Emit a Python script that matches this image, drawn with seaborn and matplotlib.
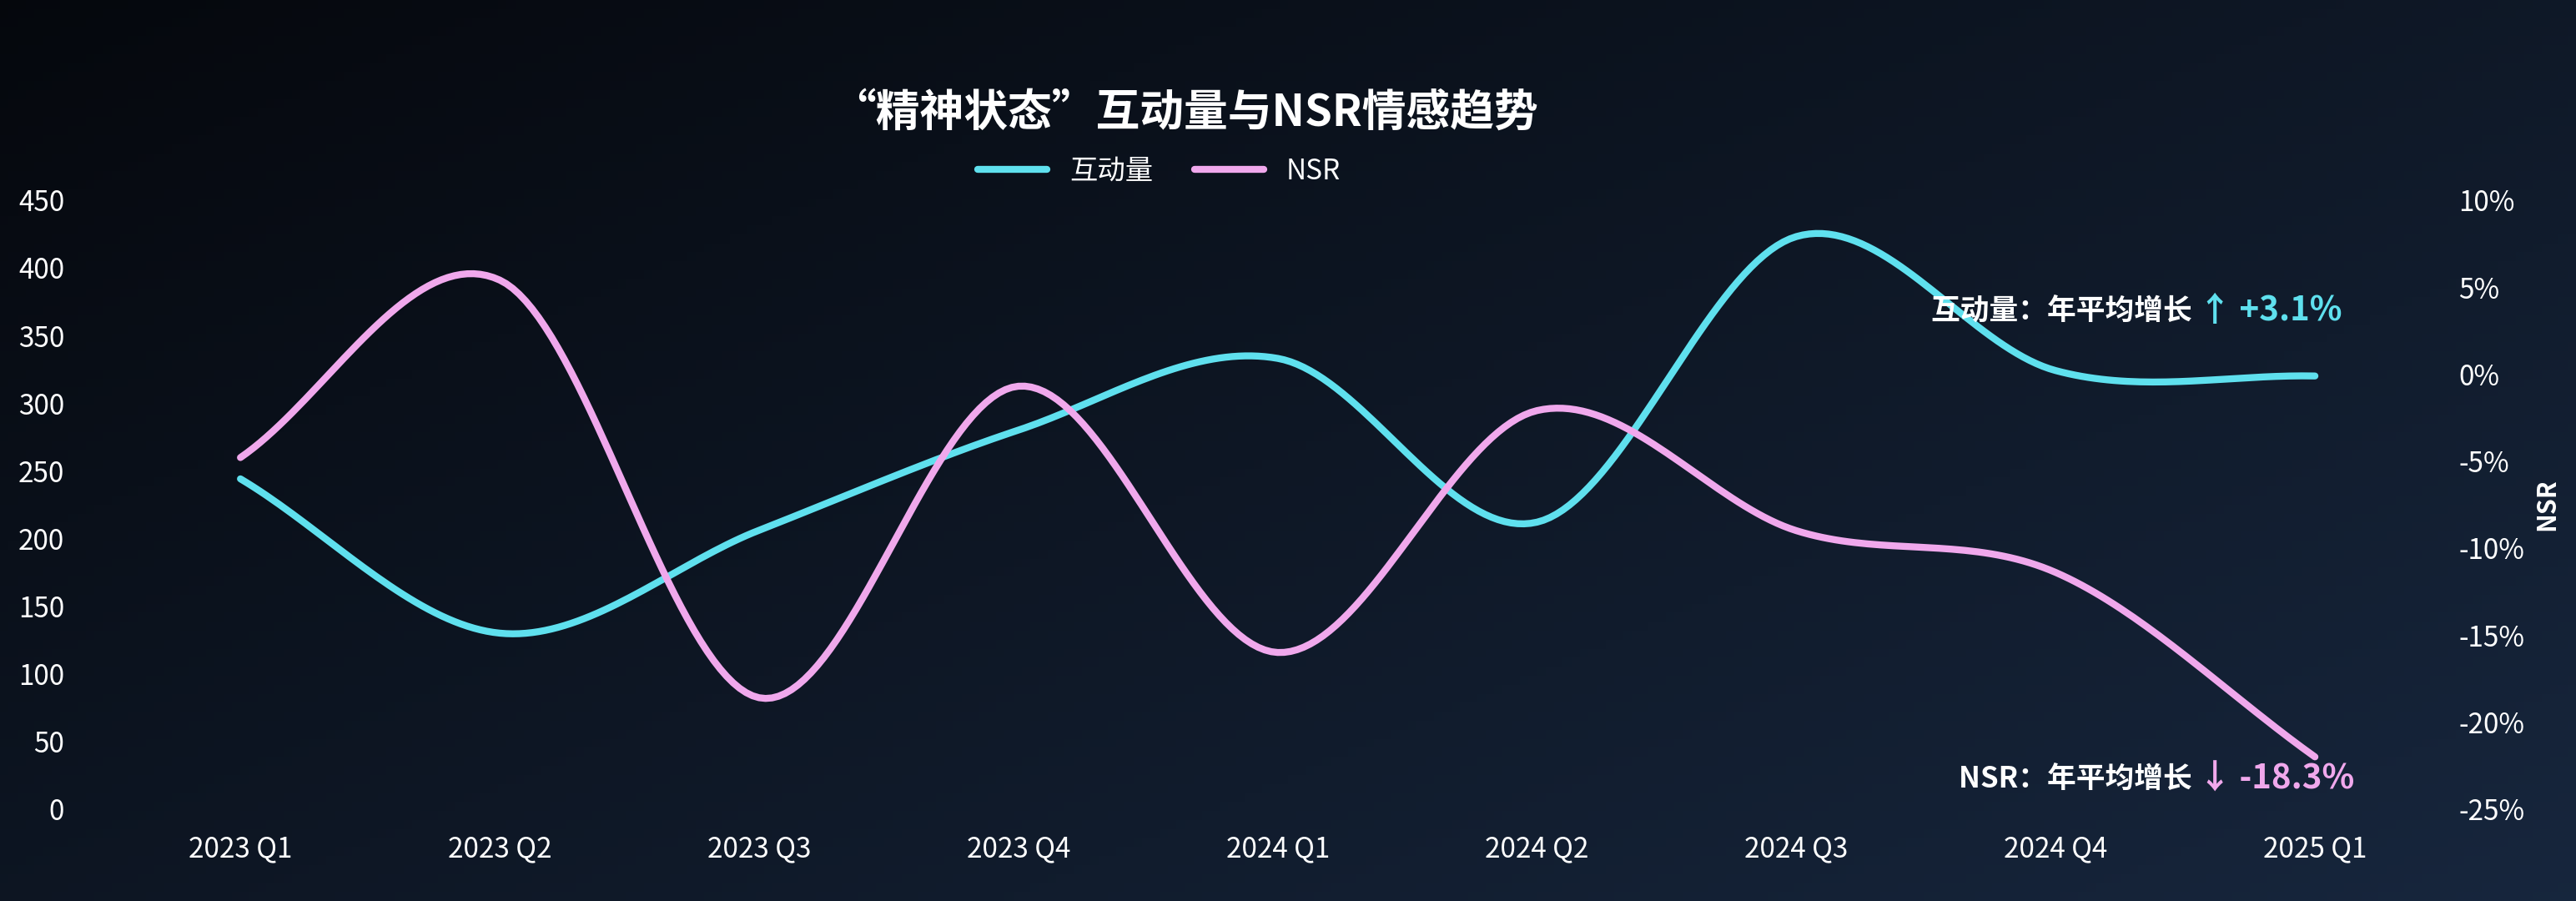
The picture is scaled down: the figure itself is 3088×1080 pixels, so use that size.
import numpy as np
import pandas as pd
import matplotlib
matplotlib.use("Agg")
import matplotlib.pyplot as plt
import seaborn as sns

quarters = ["2023 Q1", "2023 Q2", "2023 Q3", "2023 Q4", "2024 Q1", "2024 Q2", "2024 Q3", "2024 Q4", "2025 Q1"]
interaction = [244, 130, 206, 280, 333, 212, 423, 324, 320]
nsr = [-4.8, 5.4, -18.6, -0.7, -16.0, -2.1, -9.0, -11.4, -22.0]

sns.set_theme(style="dark")
plt.rcParams['font.family'] = ['Noto Sans CJK SC', 'DejaVu Sans']

CYAN = "#5fe0ee"
PINK = "#f0a8ec"

def smooth(y, n=40):
    # Catmull-Rom spline through the data points (drawing only)
    y = np.asarray(y, float)
    p = np.concatenate([[2*y[0]-y[1]], y, [2*y[-1]-y[-2]]])
    xs, ys = [], []
    for i in range(len(y)-1):
        p0, p1, p2, p3 = p[i], p[i+1], p[i+2], p[i+3]
        t = np.linspace(0, 1, n, endpoint=False)
        v = 0.5*((2*p1) + (-p0+p2)*t + (2*p0-5*p1+4*p2-p3)*t**2 + (-p0+3*p1-3*p2+p3)*t**3)
        xs.append(i+t); ys.append(v)
    xs.append([len(y)-1]); ys.append([y[-1]])
    return np.concatenate(xs), np.concatenate(ys)

fig = plt.figure(figsize=(30.88, 10.8), dpi=100)
bg = fig.add_axes([0, 0, 1, 1], zorder=-10)
gx = np.linspace(0, 1, 300)
gy = np.linspace(0, 1, 100)
X, Y = np.meshgrid(gx, gy)
g = np.clip(0.55*X + 0.45*Y, 0, 1)
c0 = np.array([0.02, 0.03, 0.05]); c1 = np.array([0.09, 0.15, 0.24])
img = c0[None, None, :]*(1-g[..., None]) + c1[None, None, :]*g[..., None]
bg.imshow(img, aspect="auto", extent=[0, 1, 0, 1], origin="upper")
bg.axis("off")

ax = fig.add_axes([0.043, 0.102, 0.906, 0.676])
ax.set_facecolor("none")
ax2 = ax.twinx()

x1, y1 = smooth(interaction)
x2, y2 = smooth(nsr)
sns.lineplot(x=x1, y=y1, ax=ax, color=CYAN, linewidth=6, sort=False, label="互动量", legend=False)
sns.lineplot(x=x2, y=y2, ax=ax2, color=PINK, linewidth=6, sort=False, label="NSR", legend=False)

ax.set_xlim(-0.5, 8.5)
ax.set_ylim(0, 450)
ax.set_yticks(range(0, 451, 50))
ax2.set_ylim(-25, 10)
ax2.set_yticks(range(-25, 11, 5))
ax2.set_yticklabels([f"{v}%" for v in range(-25, 11, 5)])
ax.set_xticks(range(len(quarters)))
ax.set_xticklabels(quarters)
for a in (ax, ax2):
    a.grid(False)
    for s in a.spines.values():
        s.set_visible(False)
    a.tick_params(colors="white", labelsize=24, length=0)
ax.tick_params(axis="x", pad=22)
ax.tick_params(axis="y", pad=40)
ax2.tick_params(axis="y", pad=12)
ax2.set_ylabel("NSR", color="white", fontsize=22, fontweight="bold", labelpad=8)

fig.text(0.46, 0.875, "“精神状态”互动量与NSR情感趋势", color="white", fontsize=38,
         fontweight="bold", ha="center", va="center")
h1, l1 = ax.get_legend_handles_labels()
h2, l2 = ax2.get_legend_handles_labels()
leg = fig.legend(h1+h2, l1+l2, loc="center", bbox_to_anchor=(0.45, 0.81), ncol=2, frameon=False,
                 fontsize=24, labelcolor="white", handlelength=2.5, columnspacing=1.5)

ax.text(7.55, 368, "互动量：年平均增长 ", color="white", fontsize=25, fontweight="bold", ha="right", va="center")
ax.text(7.55, 368, "↑ +3.1%", color=CYAN, fontsize=29, fontweight="bold", ha="left", va="center")
ax.text(7.55, 22, "NSR：年平均增长 ", color="white", fontsize=25, fontweight="bold", ha="right", va="center")
ax.text(7.55, 22, "↓ -18.3%", color=PINK, fontsize=29, fontweight="bold", ha="left", va="center")

fig.savefig("out.png", dpi=100)
